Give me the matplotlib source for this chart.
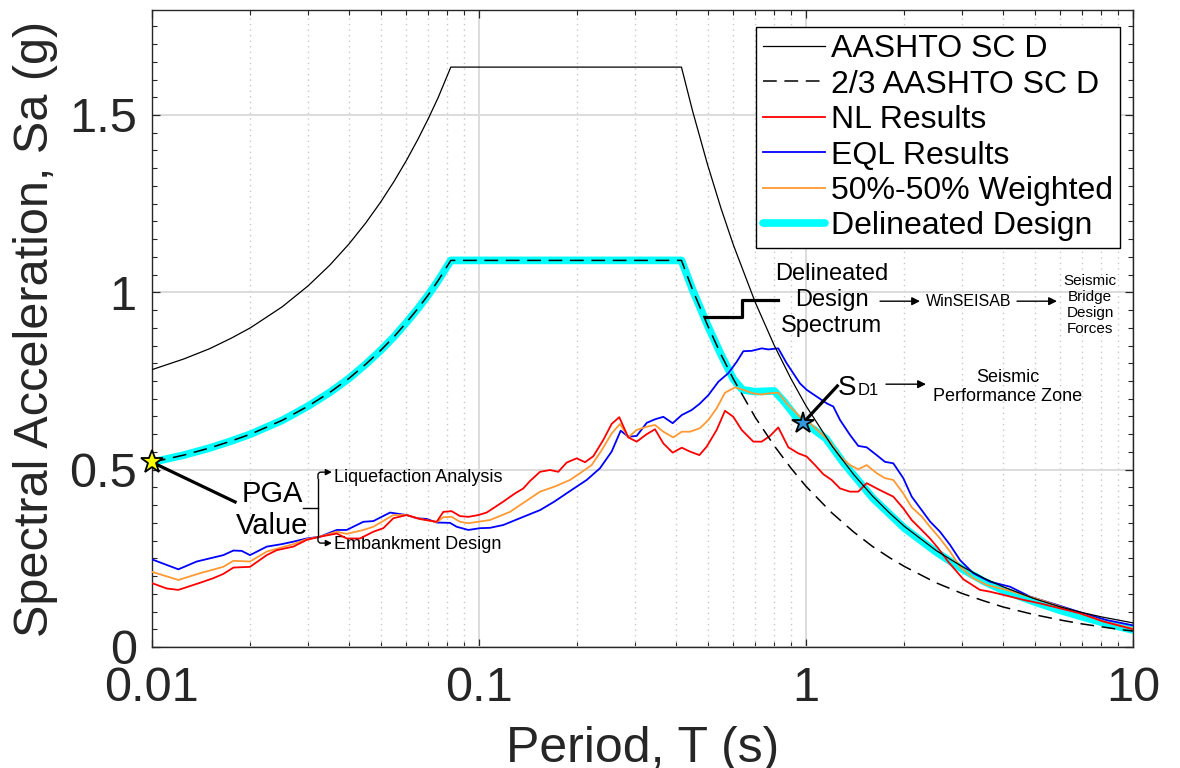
import matplotlib
matplotlib.use('Agg')
import matplotlib.pyplot as plt
from matplotlib.ticker import LogLocator, MultipleLocator, NullFormatter

plt.rcParams['font.family'] = ['Liberation Sans', 'DejaVu Sans']

# AASHTO site class D spectrum and its 2/3 scaling
t_code = [0.01, 0.0125, 0.015, 0.0175, 0.02, 0.025, 0.03, 0.035, 0.04, 0.045,
          0.05, 0.055, 0.06, 0.065, 0.07, 0.075, 0.082, 0.416, 0.45, 0.5, 0.55,
          0.6, 0.7, 0.8, 0.9, 1.0, 1.2, 1.4, 1.6, 1.8, 2.0, 2.5, 3.0, 3.5, 4.0,
          5.0, 6.0, 7.0, 8.0, 9.0, 10.0]
sa_code = [0.782, 0.812, 0.841, 0.871, 0.900, 0.959, 1.018, 1.077, 1.136, 1.195,
           1.254, 1.313, 1.372, 1.431, 1.490, 1.549, 1.635, 1.635, 1.511, 1.360, 1.236,
           1.133, 0.971, 0.850, 0.756, 0.680, 0.567, 0.486, 0.425, 0.378, 0.340, 0.272,
           0.227, 0.194, 0.170, 0.136, 0.113, 0.097, 0.085, 0.076, 0.068]
sa_code_23 = [0.521, 0.541, 0.561, 0.581, 0.600, 0.639, 0.679, 0.718, 0.757, 0.797,
              0.836, 0.875, 0.915, 0.954, 0.993, 1.033, 1.090, 1.090, 1.007, 0.907, 0.824,
              0.755, 0.647, 0.567, 0.504, 0.453, 0.378, 0.324, 0.283, 0.252, 0.227, 0.181,
              0.151, 0.130, 0.113, 0.091, 0.076, 0.065, 0.057, 0.050, 0.045]

# delineated design spectrum
t_design = [0.01, 0.0125, 0.015, 0.0175, 0.02, 0.025, 0.03, 0.035, 0.04, 0.045,
            0.05, 0.055, 0.06, 0.065, 0.07, 0.075, 0.082, 0.416, 0.45, 0.5, 0.55,
            0.6, 0.64, 0.70, 0.80, 0.86, 0.93, 0.98, 1.05, 1.15, 1.3, 1.6, 2.0, 2.5,
            3.0, 3.5, 4.0, 5.0, 6.0, 7.0, 8.0, 9.0, 10.0]
sa_design = [0.521, 0.541, 0.561, 0.581, 0.600, 0.639, 0.679, 0.718, 0.757, 0.797,
             0.836, 0.875, 0.915, 0.954, 0.993, 1.033, 1.090, 1.090, 1.007, 0.907, 0.824,
             0.755, 0.725, 0.720, 0.722, 0.690, 0.650, 0.632, 0.615, 0.588, 0.520, 0.420,
             0.335, 0.268, 0.220, 0.185, 0.160, 0.127, 0.103, 0.085, 0.070, 0.058, 0.048]

# nonlinear site response
t_nl = [0.01, 0.01109, 0.01204, 0.01402, 0.0154, 0.01652, 0.01774, 0.01994, 0.02243,
        0.02406, 0.02704, 0.02972, 0.03264, 0.03671, 0.03938, 0.04326, 0.04751, 0.05098,
        0.0547, 0.06009, 0.066, 0.07423, 0.07779, 0.08249, 0.08748, 0.09277, 0.0995,
        0.1055, 0.1187, 0.1288, 0.1366, 0.1432, 0.1537, 0.1649, 0.1748, 0.1854, 0.1989,
        0.2110, 0.2237, 0.2400, 0.2545, 0.2685, 0.2861, 0.3035, 0.3258, 0.3453, 0.3662,
        0.3911, 0.4169, 0.4418, 0.4719, 0.4970, 0.5331, 0.5653, 0.5994, 0.6358, 0.6902,
        0.7318, 0.7760, 0.8229, 0.8831, 0.9474, 1.0046, 1.0654, 1.130, 1.198, 1.271,
        1.363, 1.445, 1.533, 1.645, 1.765, 1.849, 1.984, 2.105, 2.258, 2.394, 2.539,
        2.724, 3.028, 3.404, 3.653, 4.012, 4.620, 5.196, 5.982, 6.885, 8.115, 10.0]
sa_nl = [0.180, 0.165, 0.161, 0.181, 0.194, 0.206, 0.224, 0.226, 0.259, 0.273, 0.283,
         0.302, 0.311, 0.320, 0.306, 0.306, 0.325, 0.335, 0.363, 0.372, 0.361, 0.353,
         0.381, 0.383, 0.369, 0.367, 0.372, 0.379, 0.410, 0.433, 0.447, 0.468, 0.494,
         0.499, 0.494, 0.520, 0.532, 0.521, 0.538, 0.584, 0.629, 0.648, 0.591, 0.579,
         0.600, 0.614, 0.574, 0.548, 0.562, 0.551, 0.541, 0.565, 0.612, 0.666, 0.649,
         0.612, 0.579, 0.579, 0.595, 0.619, 0.563, 0.546, 0.537, 0.513, 0.487, 0.471,
         0.447, 0.438, 0.438, 0.462, 0.447, 0.433, 0.424, 0.391, 0.358, 0.330, 0.306,
         0.278, 0.240, 0.191, 0.161, 0.156, 0.147, 0.133, 0.123, 0.109, 0.095, 0.072,
         0.050]

# equivalent linear site response
t_eql = [0.01, 0.01204, 0.0137, 0.01652, 0.01774, 0.0188, 0.01994, 0.02243, 0.02493,
         0.02704, 0.02972, 0.03264, 0.03671, 0.03938, 0.0443, 0.04751, 0.05344, 0.06009,
         0.06448, 0.06918, 0.07423, 0.08153, 0.08546, 0.09277, 0.1007, 0.108, 0.1187,
         0.1366, 0.1537, 0.17, 0.19, 0.2135, 0.2344, 0.2545, 0.2712, 0.2861, 0.3035,
         0.3258, 0.3453, 0.3662, 0.3911, 0.4169, 0.4467, 0.4719, 0.5027, 0.5396, 0.5787,
         0.6138, 0.6432, 0.6822, 0.732, 0.767, 0.8226, 0.8727, 0.9587, 1.005, 1.157,
         1.212, 1.271, 1.363, 1.445, 1.533, 1.645, 1.744, 1.849, 1.984, 2.105, 2.258,
         2.394, 2.569, 2.757, 2.958, 3.248, 3.653, 4.206, 4.842, 5.843, 7.047, 8.310, 10.0]
sa_eql = [0.247, 0.219, 0.241, 0.259, 0.272, 0.271, 0.259, 0.283, 0.290, 0.297, 0.306,
          0.311, 0.330, 0.330, 0.353, 0.355, 0.379, 0.372, 0.363, 0.361, 0.351, 0.350,
          0.339, 0.330, 0.335, 0.336, 0.344, 0.367, 0.386, 0.410, 0.440, 0.471, 0.504,
          0.551, 0.610, 0.593, 0.595, 0.632, 0.642, 0.649, 0.631, 0.654, 0.668, 0.685,
          0.710, 0.748, 0.772, 0.804, 0.834, 0.835, 0.842, 0.839, 0.842, 0.800, 0.743,
          0.725, 0.687, 0.678, 0.640, 0.598, 0.567, 0.563, 0.541, 0.522, 0.518, 0.476,
          0.424, 0.386, 0.354, 0.325, 0.288, 0.245, 0.208, 0.184, 0.170, 0.142, 0.119,
          0.095, 0.076, 0.061]

# 50/50 weighted average of NL and EQL
t_wtd = [0.01, 0.01204, 0.01402, 0.01652, 0.01774, 0.01994, 0.02243, 0.02704, 0.02972,
         0.03264, 0.03671, 0.03938, 0.0443, 0.04751, 0.0547, 0.06009, 0.066, 0.07423,
         0.07779, 0.08249, 0.08748, 0.09277, 0.108, 0.1244, 0.1537, 0.17, 0.1898, 0.2036,
         0.2211, 0.2373, 0.2545, 0.2699, 0.2861, 0.3035, 0.3258, 0.3453, 0.3662, 0.3927,
         0.4169, 0.4418, 0.4741, 0.5027, 0.5331, 0.5653, 0.6067, 0.6432, 0.690, 0.732,
         0.767, 0.8226, 0.8727, 0.9587, 1.0285, 1.184, 1.271, 1.363, 1.445, 1.533, 1.645,
         1.744, 1.849, 1.984, 2.105, 2.258, 2.394, 2.569, 2.757, 2.958, 3.248, 3.568,
         4.108, 4.620, 5.196, 5.982, 6.885, 8.115, 10.0]
sa_wtd = [0.212, 0.189, 0.208, 0.226, 0.243, 0.241, 0.269, 0.290, 0.304, 0.311, 0.325,
          0.319, 0.330, 0.339, 0.372, 0.372, 0.361, 0.352, 0.366, 0.367, 0.353, 0.349,
          0.358, 0.381, 0.438, 0.452, 0.471, 0.490, 0.513, 0.555, 0.602, 0.629, 0.591,
          0.612, 0.621, 0.626, 0.607, 0.591, 0.607, 0.607, 0.617, 0.640, 0.673, 0.717,
          0.732, 0.725, 0.715, 0.712, 0.715, 0.717, 0.687, 0.649, 0.631, 0.579, 0.537,
          0.513, 0.501, 0.513, 0.490, 0.476, 0.471, 0.433, 0.394, 0.368, 0.339, 0.306,
          0.269, 0.226, 0.194, 0.175, 0.161, 0.147, 0.133, 0.114, 0.095, 0.072, 0.052]

pga_t, pga_sa = 0.01, 0.521
sd1_t, sd1_sa = 0.98, 0.632

INK = '#262626'

fig = plt.figure(figsize=(11.8, 7.68), dpi=100)
ax = fig.add_axes([152 / 1180, 121 / 768, 981 / 1180, 637 / 768])

h6, = ax.plot(t_design, sa_design, color='#00ffff', lw=5.5, solid_joinstyle='round',
              solid_capstyle='round', zorder=2, label='Delineated Design')
h4, = ax.plot(t_eql, sa_eql, color='#0000ff', lw=1.3, zorder=3, label='EQL Results')
h5, = ax.plot(t_wtd, sa_wtd, color='#ff9933', lw=1.3, zorder=3.2, label='50%-50% Weighted')
h3, = ax.plot(t_nl, sa_nl, color='#ff0000', lw=1.3, zorder=3.4, label='NL Results')
h1, = ax.plot(t_code, sa_code, color='k', lw=0.9, zorder=3.6, label='AASHTO SC D')
h2, = ax.plot(t_code, sa_code_23, color='k', lw=1.1, ls=(0, (9, 5)), zorder=4,
              label='2/3 AASHTO SC D')

# axes setup
ax.set_xscale('log')
ax.set_xlim(0.01, 10)
ax.set_ylim(0, 1.796)
ax.set_xticks([0.01, 0.1, 1, 10])
ax.set_xticklabels(['0.01', '0.1', '1', '10'])
ax.xaxis.set_minor_locator(LogLocator(base=10, subs=range(2, 10)))
ax.xaxis.set_minor_formatter(NullFormatter())
ax.set_yticks([0, 0.5, 1, 1.5])
ax.set_yticklabels(['0', '0.5', '1', '1.5'])
ax.yaxis.set_minor_locator(MultipleLocator(0.05))
ax.tick_params(which='both', direction='in', top=True, right=True, colors=INK,
               labelsize=35)
ax.tick_params(axis='x', which='major', pad=14)
ax.tick_params(axis='y', which='major', pad=11)
ax.tick_params(which='major', length=6, width=0.9)
ax.tick_params(which='minor', length=3.5, width=0.8)
ax.grid(which='major', color='#dcdcdc', lw=1.4)
ax.grid(which='minor', axis='x', color='#c8c8c8', lw=1, ls=(0, (1, 3)))
ax.set_axisbelow(True)
for sp in ax.spines.values():
    sp.set_color(INK)
    sp.set_linewidth(1.0)

ax.set_xlabel('Period, T (s)', fontsize=36, color=INK, va='baseline')
ax.xaxis.set_label_coords(0.5, -0.1805)
ax.set_ylabel('Spectral Acceleration, Sa (g)', fontsize=35, color=INK, va='center')
ax.yaxis.set_label_coords(-0.119, 0.5)

leg = ax.legend(handles=[h1, h2, h3, h4, h5, h6], loc='upper right',
                bbox_to_anchor=(0.987, 0.973), fontsize=23, frameon=True,
                fancybox=False, edgecolor='k', framealpha=1, handlelength=1.95,
                handletextpad=0.2, labelspacing=0.17, borderpad=0.22,
                borderaxespad=0)
leg.get_frame().set_linewidth(1.0)
leg.set_zorder(10)

# PGA callout
ax.plot([pga_t, 0.01795], [pga_sa, 0.409], color='k', lw=2.3, zorder=5)
ax.plot(pga_t, pga_sa, marker='*', ms=17, mfc='#ffff00', mec='k', mew=1.3,
        clip_on=False, zorder=6)
ax.text(0.0233, 0.386, 'PGA\nValue', fontsize=21, ha='center', va='center',
        linespacing=1.2, zorder=6)
ax.plot([0.03218, 0.03218], [0.31, 0.475], color='k', lw=1.0, zorder=5)
ax.plot([0.02896, 0.03218], [0.392, 0.392], color='k', lw=1.0, zorder=5)
for y0, y1 in [(0.475, 0.493), (0.31, 0.293)]:
    ax.annotate('', xy=(0.0355, y1), xytext=(0.03218, y0),
                arrowprops=dict(arrowstyle='-|>', color='k', lw=1.0, mutation_scale=9,
                                shrinkA=0, shrinkB=0,
                                connectionstyle='angle,angleA=90,angleB=0,rad=3'),
                zorder=5)
ax.text(0.0360, 0.479, 'Liquefaction Analysis', fontsize=13, ha='left', va='center')
ax.text(0.0360, 0.290, 'Embankment Design', fontsize=13, ha='left', va='center')

# delineated design callout
ax.plot([0.491, 0.637, 0.637, 0.821], [0.930, 0.930, 0.978, 0.978], color='k',
        lw=2.3, zorder=5)
ax.text(1.20, 0.978, 'Delineated\nDesign\nSpectrum', fontsize=17, ha='center',
        va='center', linespacing=1.24)
arrow = dict(arrowstyle='-|>', color='k', lw=1.0, mutation_scale=12, shrinkA=0, shrinkB=0)
ax.annotate('', xy=(2.232, 0.975), xytext=(1.684, 0.975), arrowprops=arrow)
ax.text(3.152, 0.975, 'WinSEISAB', fontsize=11.5, ha='center', va='center')
ax.annotate('', xy=(5.855, 0.975), xytext=(4.418, 0.975), arrowprops=arrow)
ax.text(7.389, 0.964, 'Seismic\nBridge\nDesign\nForces', fontsize=11, ha='center',
        va='center', linespacing=1.2)

# SD1 callout
ax.plot([1.247, sd1_t], [0.736, sd1_sa], color='k', lw=2.3, zorder=5)
ax.plot(sd1_t, sd1_sa, marker='*', ms=16, mfc='#3399dd', mec='k', mew=1.3, zorder=6)
ax.text(1.253, 0.710, 'S', fontsize=20, ha='left', va='baseline')
ax.text(1.442, 0.710, 'D1', fontsize=12, ha='left', va='baseline')
ax.annotate('', xy=(2.328, 0.741), xytext=(1.756, 0.741), arrowprops=arrow)
ax.text(4.147, 0.732, 'Seismic\nPerformance Zone', fontsize=13, ha='center',
        va='center', linespacing=1.17)

fig.savefig('out.png', dpi=100)
